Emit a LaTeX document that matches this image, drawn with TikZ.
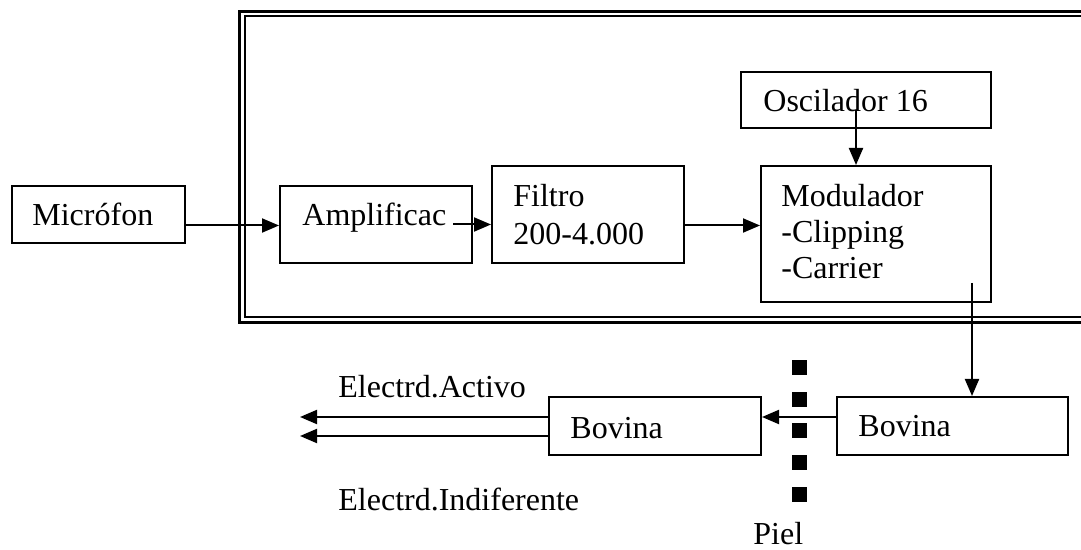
\documentclass[tikz,border=0pt]{standalone}
\usepackage{fontspec}
\setmainfont{Liberation Serif}
\usetikzlibrary{arrows.meta,fit}
\begin{document}
\begin{tikzpicture}[x=0.5pt,y=-0.5pt,
  box/.style={draw, line width=1pt, inner sep=0pt},
  lbl/.style={anchor=base west, inner sep=0pt, font=\fontsize{16}{19}\selectfont},
  arr/.style={line width=1pt, -{Triangle[length=8.5pt,width=7pt]}},
  skin/.style={fill=black}]
\clip (0,0) rectangle (1081,550);
\fill[white] (0,0) rectangle (1081,550);

% housing of the processor: double frame, open to the right
\draw[line width=1.65pt] (1090,11.5) -- (239.3,11.5) -- (239.3,322.5) -- (1090,322.5);
\draw[line width=1pt] (1090,16.3) -- (244.5,16.3) -- (244.5,317) -- (1090,317);

% blocks
\node[box, fit={(12,186) (185,243)}] (mic) {};
\node[box, fit={(280,186) (472,263)}] (amp) {};
\node[box, fit={(492,166) (684,263)}] (fil) {};
\node[box, fit={(741,72) (991,128)}] (osc) {};
\node[box, fit={(761,166) (991,302)}] (mod) {};
\node[box, fit={(837,397) (1068,455)}] (bovR) {};
\node[box, fit={(549,397) (761,455)}] (bovL) {};

% block texts
\node[lbl] (tmic) at (32,226) {Micrófon};
\node[lbl] (tamp) at (302,226) {Amplificac};
\node[lbl] (tfil1) at (513,207) {Filtro};
\node[lbl] (tfil2) at (513,245) {200-4.000};
\node[lbl] (tosc) at (763,112) {Oscilador 16};
\node[lbl] (tmod1) at (781,207) {Modulador};
\node[lbl] (tmod2) at (781,243) {-Clipping};
\node[lbl] (tmod3) at (781,279) {-Carrier};
\node[lbl] (tbovR) at (858,437) {Bovina};
\node[lbl] (tbovL) at (570,438) {Bovina};
\node[lbl] (tact) at (338,398) {Electrd.Activo};
\node[lbl] (tind) at (338,510) {Electrd.Indiferente};
\node[lbl] (tpiel) at (753,544) {Piel};

% skin barrier
\foreach \y in {360,392,423,455,487}
  \fill[skin] (791.5,\y) rectangle ++(15,15);

% signal path
\coordinate (row) at (0,225.5);
\coordinate (ampOut) at (453,224.5);
\coordinate (oscOut) at (856,110);
\coordinate (modOut) at (972,283);
\coordinate (bovRow) at (0,417);
\coordinate (e1) at (300,417);
\coordinate (e2) at (300,436);

\draw[arr] (mic.east |- row) -- (amp.west |- row);
\draw[arr] (ampOut) -- (fil.west |- ampOut);
\draw[arr] (fil.east |- row) -- (mod.west |- row);
\draw[arr] (oscOut) -- (mod.north -| oscOut);
\draw[arr] (modOut) -- (bovR.north -| modOut);
\draw[arr] (bovR.west |- bovRow) -- (bovL.east |- bovRow);
\draw[arr] (bovL.west |- e1) -- (e1);
\draw[arr] (bovL.west |- e2) -- (e2);
\end{tikzpicture}
\end{document}
